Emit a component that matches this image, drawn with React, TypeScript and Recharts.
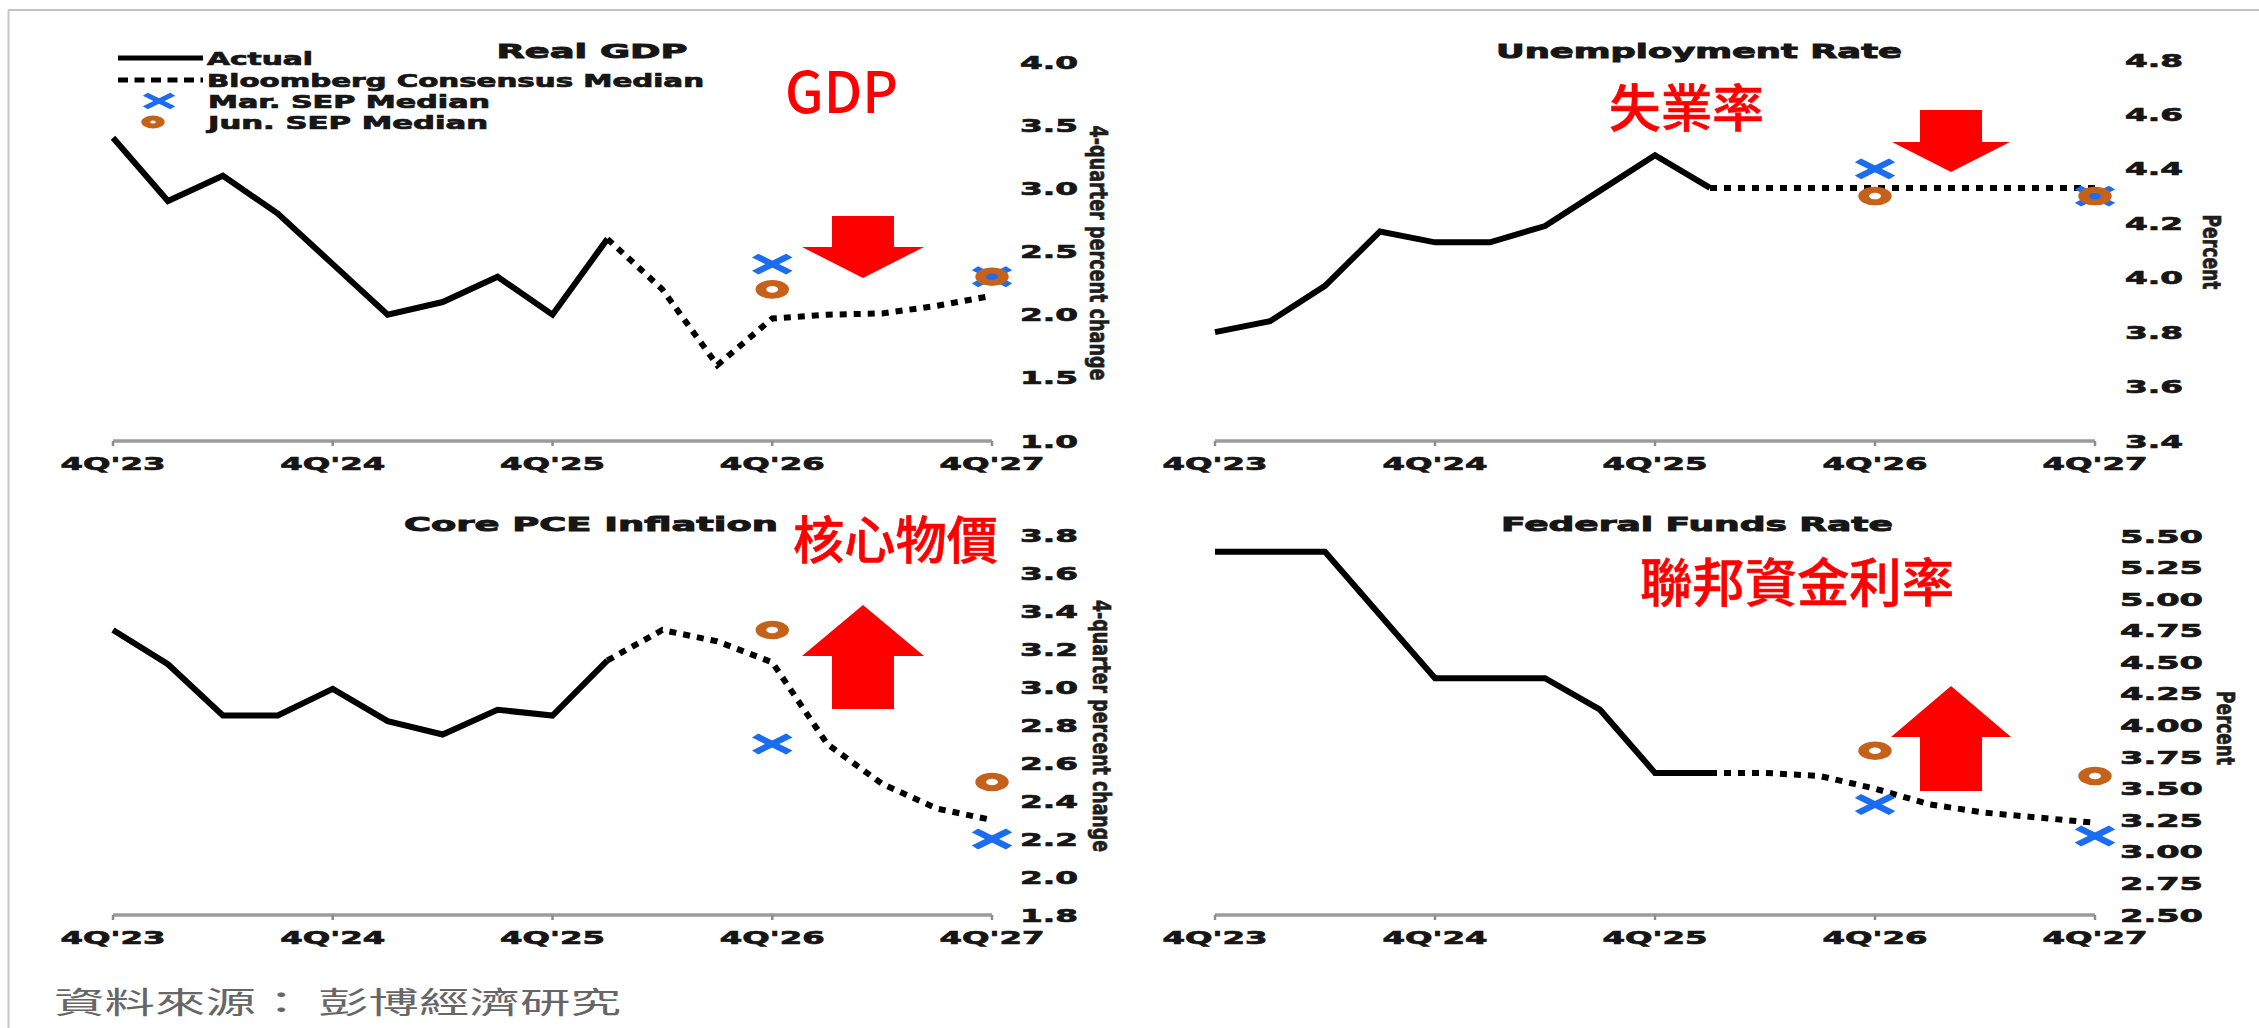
import React from 'react';
import { ComposedChart, Line, XAxis, YAxis } from 'recharts';

// ---------------- data ----------------
const quarters = ["4Q'23", "1Q'24", "2Q'24", "3Q'24", "4Q'24", "1Q'25", "2Q'25", "3Q'25", "4Q'25", "1Q'26", "2Q'26", "3Q'26", "4Q'26", "1Q'27", "2Q'27", "3Q'27", "4Q'27"];
const xTickIdx = [0, 4, 8, 12, 16];

const N = null;
const gdpActual = [3.4, 2.9, 3.1, 2.8, 2.4, 2.0, 2.1, 2.3, 2.0, 2.6, N, N, N, N, N, N, N];
const gdpConsensus = [N, N, N, N, N, N, N, N, N, 2.6, 2.2, 1.6, 1.97, 2.0, 2.01, 2.07, 2.15];
const gdpMar = [N, N, N, N, N, N, N, N, N, N, N, N, 2.4, N, N, N, 2.3];
const gdpJun = [N, N, N, N, N, N, N, N, N, N, N, N, 2.2, N, N, N, 2.3];
const gdpTicks = [1.0, 1.5, 2.0, 2.5, 3.0, 3.5, 4.0];
const gdpTickLabels = ['1.0', '1.5', '2.0', '2.5', '3.0', '3.5', '4.0'];

const unActual = [3.8, 3.84, 3.97, 4.17, 4.13, 4.13, 4.19, 4.32, 4.45, 4.33, N, N, N, N, N, N, N];
const unConsensus = [N, N, N, N, N, N, N, N, N, 4.33, 4.33, 4.33, 4.33, 4.33, 4.33, 4.33, 4.33];
const unMar = [N, N, N, N, N, N, N, N, N, N, N, N, 4.4, N, N, N, 4.3];
const unJun = [N, N, N, N, N, N, N, N, N, N, N, N, 4.3, N, N, N, 4.3];
const unTicks = [3.4, 3.6, 3.8, 4.0, 4.2, 4.4, 4.6, 4.8];
const unTickLabels = ['3.4', '3.6', '3.8', '4.0', '4.2', '4.4', '4.6', '4.8'];

const pceActual = [3.3, 3.12, 2.85, 2.85, 2.99, 2.82, 2.75, 2.88, 2.85, 3.14, N, N, N, N, N, N, N];
const pceConsensus = [N, N, N, N, N, N, N, N, N, 3.14, 3.3, 3.24, 3.13, 2.7, 2.49, 2.36, 2.3];
const pceMar = [N, N, N, N, N, N, N, N, N, N, N, N, 2.7, N, N, N, 2.2];
const pceJun = [N, N, N, N, N, N, N, N, N, N, N, N, 3.3, N, N, N, 2.5];
const pceTicks = [1.8, 2.0, 2.2, 2.4, 2.6, 2.8, 3.0, 3.2, 3.4, 3.6, 3.8];
const pceTickLabels = ['1.8', '2.0', '2.2', '2.4', '2.6', '2.8', '3.0', '3.2', '3.4', '3.6', '3.8'];

const ffActual = [5.375, 5.375, 5.375, 4.875, 4.375, 4.375, 4.375, 4.125, 3.625, 3.625, N, N, N, N, N, N, N];
const ffConsensus = [N, N, N, N, N, N, N, N, N, 3.625, 3.625, 3.6, 3.5, 3.375, 3.31, 3.27, 3.23];
const ffMar = [N, N, N, N, N, N, N, N, N, N, N, N, 3.375, N, N, N, 3.125];
const ffJun = [N, N, N, N, N, N, N, N, N, N, N, N, 3.8, N, N, N, 3.6];
const ffTicks = [2.5, 2.75, 3.0, 3.25, 3.5, 3.75, 4.0, 4.25, 4.5, 4.75, 5.0, 5.25, 5.5];
const ffTickLabels = ['2.50', '2.75', '3.00', '3.25', '3.50', '3.75', '4.00', '4.25', '4.50', '4.75', '5.00', '5.25', '5.50'];

// ---------------- styles ----------------
const CHART_FONT = '"DejaVu Sans", Verdana, sans-serif';
const CJK_FONT = '"Noto Sans CJK TC", "Noto Sans CJK SC", sans-serif';
const BLUE = '#1c6cf0';
const ORANGE = '#c4621c';
const RED = '#ff0000';
const INK = '#161616';
const SX = 1.8;

const XMark = ({ cx, cy, s = 1 }: any) => (
  <g transform={`translate(${cx},${cy}) scale(${SX * s},${s})`}>
    <line x1={-9.5} y1={-8.5} x2={9.5} y2={8.5} stroke={BLUE} strokeWidth={5.2} />
    <line x1={-9.5} y1={8.5} x2={9.5} y2={-8.5} stroke={BLUE} strokeWidth={5.2} />
  </g>
);
const OMark = ({ cx, cy, r = 6.3, sw = 6 }: any) => (
  <g transform={`translate(${cx},${cy}) scale(${SX},1)`}>
    <circle r={r} fill="none" stroke={ORANGE} strokeWidth={sw} />
  </g>
);

const renderX = (p: any) => {
  const { cx, cy, value, index } = p;
  if (value == null || cy == null || isNaN(cy)) return <g key={'x' + index} />;
  return <g key={'x' + index}><XMark cx={cx} cy={cy} /></g>;
};
const renderO = (p: any) => {
  const { cx, cy, value, index } = p;
  if (value == null || cy == null || isNaN(cy)) return <g key={'o' + index} />;
  return <g key={'o' + index}><OMark cx={cx} cy={cy} /></g>;
};

const makeXTick = (baseY: number) => (props: any) => {
  const { x, payload } = props;
  return (
    <text x={x} y={baseY} textAnchor="middle" fontFamily={CHART_FONT} fontWeight="bold" fontSize={18}
      fill={INK} stroke={INK} strokeWidth={0.7} textLength={105} lengthAdjust="spacingAndGlyphs">
      {quarters[payload.value]}
    </text>
  );
};
const makeYTick = (xLeft: number, ticks: number[], labels: string[], w: number) => (props: any) => {
  const { y, payload } = props;
  const k = ticks.findIndex((t) => Math.abs(t - payload.value) < 1e-6);
  const label = k >= 0 ? labels[k] : String(payload.value);
  return (
    <text x={xLeft} y={y + 6.5} textAnchor="start" fontFamily={CHART_FONT} fontWeight="bold" fontSize={18}
      fill={INK} stroke={INK} strokeWidth={0.7} textLength={w} lengthAdjust="spacingAndGlyphs">
      {label}
    </text>
  );
};

type PanelProps = {
  left: number; top: number; w: number; h: number;
  px0: number; px1: number; py0: number; py1: number;
  actual: (number | null)[]; cons: (number | null)[]; mar: (number | null)[]; jun: (number | null)[];
  yTicks: number[]; yLabels: string[]; yLabelOffset: number; yLabelWidth: number;
};

function Panel(p: PanelProps) {
  const XH = 40, YW = 100;
  const cx0 = p.px0 - p.left, cx1 = p.px1 - p.left, cy0 = p.py0 - p.top, cy1 = p.py1 - p.top;
  const margin = { left: cx0, right: p.w - cx1 - YW, top: cy0, bottom: p.h - cy1 - XH };
  const data = quarters.map((q, i) => ({ i, q, actual: p.actual[i], cons: p.cons[i], mar: p.mar[i], jun: p.jun[i] }));
  const dom: [number, number] = [p.yTicks[0], p.yTicks[p.yTicks.length - 1]];
  return (
    <div style={{ position: 'absolute', left: p.left, top: p.top, width: p.w, height: p.h }}>
      <ComposedChart width={p.w} height={p.h} data={data} margin={margin}>
        <XAxis dataKey="i" type="number" domain={[0, 16]} ticks={xTickIdx} interval={0} height={XH}
          axisLine={{ stroke: '#9b9b9b', strokeWidth: 3.5 }} tickLine={{ stroke: '#8c8c8c', strokeWidth: 2.5 }}
          tickSize={5} tick={makeXTick(cy1 + 29)} />
        <YAxis orientation="right" type="number" domain={dom} ticks={p.yTicks} interval={0} width={YW}
          axisLine={false} tickLine={false}
          tick={makeYTick(cx1 + p.yLabelOffset, p.yTicks, p.yLabels, p.yLabelWidth)} />
        <Line dataKey="actual" stroke="#000" strokeWidth={6} dot={false} activeDot={false} isAnimationActive={false} />
        <Line dataKey="cons" stroke="#000" strokeWidth={6} strokeDasharray="7 7" dot={false} activeDot={false} isAnimationActive={false} />
        <Line dataKey="mar" stroke="none" dot={renderX} activeDot={false} isAnimationActive={false} />
        <Line dataKey="jun" stroke="none" dot={renderO} activeDot={false} isAnimationActive={false} />
      </ComposedChart>
    </div>
  );
}

const T = ({ x, y, w, fs, anchor = 'start', weight = 'bold', family = CHART_FONT, fill = INK, sw = 0.7, children }: any) => (
  <text x={x} y={y} fontSize={fs} fontFamily={family} fontWeight={weight} fill={fill} textAnchor={anchor}
    stroke={sw > 0 ? fill : 'none'} strokeWidth={sw}
    textLength={w} lengthAdjust="spacingAndGlyphs">{children}</text>
);
const RT = ({ cx, cy, len, fs, children }: any) => (
  <text transform={`translate(${cx},${cy}) scale(1.45,1) rotate(90)`} x={0} y={0} textAnchor="middle"
    dominantBaseline="central" fontSize={fs} fontFamily={CHART_FONT} fontWeight="bold" fill="#1e1e1e"
    stroke="#1e1e1e" strokeWidth={0.5}
    textLength={len} lengthAdjust="spacingAndGlyphs">{children}</text>
);
const DownArrow = ({ cx, top, mid, tip, hw, rw }: any) => (
  <polygon fill={RED} points={`${cx - rw},${top} ${cx + rw},${top} ${cx + rw},${mid} ${cx + hw},${mid} ${cx},${tip} ${cx - hw},${mid} ${cx - rw},${mid}`} />
);
const UpArrow = ({ cx, bottom, mid, tip, hw, rw }: any) => (
  <polygon fill={RED} points={`${cx - rw},${bottom} ${cx + rw},${bottom} ${cx + rw},${mid} ${cx + hw},${mid} ${cx},${tip} ${cx - hw},${mid} ${cx - rw},${mid}`} />
);

export default function App() {
  return (
    <div style={{ position: 'absolute', left: 0, top: 0, width: 2259, height: 1028, background: '#fff', overflow: 'hidden' }}>
      <Panel left={0} top={0} w={1130} h={500} px0={113} px1={992} py0={62} py1={441}
        actual={gdpActual} cons={gdpConsensus} mar={gdpMar} jun={gdpJun}
        yTicks={gdpTicks} yLabels={gdpTickLabels} yLabelOffset={28} yLabelWidth={58} />
      <Panel left={1130} top={0} w={1129} h={500} px0={1215} px1={2095} py0={60} py1={441}
        actual={unActual} cons={unConsensus} mar={unMar} jun={unJun}
        yTicks={unTicks} yLabels={unTickLabels} yLabelOffset={30} yLabelWidth={58} />
      <Panel left={0} top={490} w={1130} h={538} px0={113} px1={992} py0={535} py1={915}
        actual={pceActual} cons={pceConsensus} mar={pceMar} jun={pceJun}
        yTicks={pceTicks} yLabels={pceTickLabels} yLabelOffset={28} yLabelWidth={58} />
      <Panel left={1130} top={490} w={1129} h={538} px0={1215} px1={2095} py0={536} py1={915}
        actual={ffActual} cons={ffConsensus} mar={ffMar} jun={ffJun}
        yTicks={ffTicks} yLabels={ffTickLabels} yLabelOffset={25} yLabelWidth={83} />

      <svg width={2259} height={1028} style={{ position: 'absolute', left: 0, top: 0, pointerEvents: 'none' }}>
        {/* frame */}
        <line x1={8} y1={10} x2={2259} y2={10} stroke="#c2c2c2" strokeWidth={2} />
        <line x1={8.5} y1={10} x2={8.5} y2={1028} stroke="#c8c8c8" strokeWidth={2} />

        {/* titles */}
        <T x={592} y={58} w={191} fs={20} anchor="middle" sw={0.9}>Real GDP</T>
        <T x={1699} y={58} w={406} fs={20} anchor="middle" sw={0.9}>Unemployment Rate</T>
        <T x={591} y={531} w={374} fs={20} anchor="middle" sw={0.9}>Core PCE Inflation</T>
        <T x={1697} y={531} w={392} fs={20} anchor="middle" sw={0.9}>Federal Funds Rate</T>

        {/* axis titles */}
        <RT cx={1099} cy={253} len={255} fs={17}>4-quarter percent change</RT>
        <RT cx={2212} cy={252} len={75} fs={17}>Percent</RT>
        <RT cx={1102} cy={726} len={252} fs={17}>4-quarter percent change</RT>
        <RT cx={2226} cy={728} len={74} fs={17}>Percent</RT>

        {/* legend */}
        <line x1={118} y1={58} x2={203} y2={58} stroke="#000" strokeWidth={5} />
        <T x={207} y={64.5} w={106} fs={17}>Actual</T>
        <line x1={118} y1={80} x2={203} y2={80} stroke="#000" strokeWidth={5} strokeDasharray="10 6.5" />
        <T x={207} y={86.5} w={497} fs={17}>Bloomberg Consensus Median</T>
        <XMark cx={159} cy={101} s={0.8} />
        <T x={208} y={107.5} w={282} fs={17}>Mar. SEP Median</T>
        <OMark cx={153} cy={122} r={4} sw={5} />
        <T x={208} y={128.5} w={280} fs={17}>Jun. SEP Median</T>

        {/* red annotations */}
        <T x={785} y={113} w={113} fs={57} weight={500} family={CJK_FONT} fill={RED} sw={0}>GDP</T>
        <T x={1609} y={127} w={155} fs={51} weight={500} family={CJK_FONT} fill={RED} sw={0.6}>失業率</T>
        <T x={793} y={559} w={205} fs={51} weight={500} family={CJK_FONT} fill={RED} sw={0.6}>核心物價</T>
        <T x={1640} y={602} w={314} fs={52} weight={500} family={CJK_FONT} fill={RED} sw={0.6}>聯邦資金利率</T>

        <DownArrow cx={863} top={216} mid={247} tip={278} hw={61} rw={31} />
        <DownArrow cx={1951} top={110} mid={142} tip={172} hw={59} rw={31} />
        <UpArrow cx={863} bottom={709} mid={656} tip={605} hw={61} rw={31} />
        <UpArrow cx={1951} bottom={791} mid={737} tip={686} hw={60} rw={31} />

        {/* source */}
        <T x={54} y={1013} w={567} fs={30} weight={400} family={CJK_FONT} fill="#666" sw={0}>資料來源： 彭博經濟研究</T>
      </svg>
    </div>
  );
}
